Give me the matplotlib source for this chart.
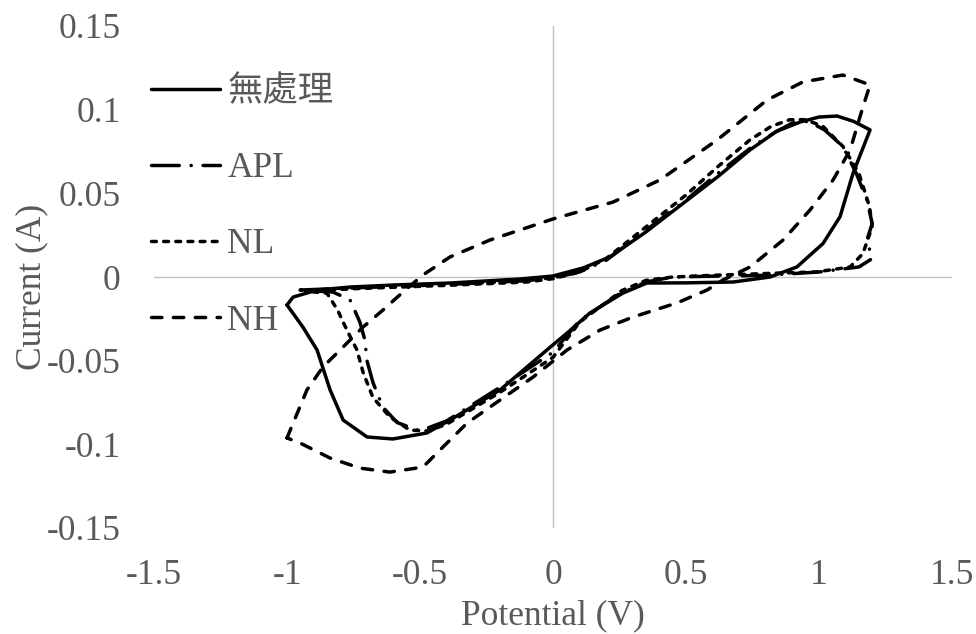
import matplotlib
matplotlib.use("Agg")
import matplotlib.pyplot as plt

plt.rcParams['font.family'] = ['Liberation Serif', 'Noto Sans CJK TC', 'DejaVu Sans']
plt.rcParams['axes.unicode_minus'] = False

# series (potential V, current A)
x_none = [-1.000, -0.977, -0.887, -0.763, -0.600, -0.387, -0.124, 0.0, 0.113, 0.214, 0.35, 0.489, 0.62,
          0.741, 0.84, 0.929, 1.0, 1.068, 1.13, 1.192,
          1.128, 1.079, 1.015, 0.917, 0.816, 0.677, 0.50, 0.353, 0.263, 0.139, 0.053, -0.011, -0.199,
          -0.387, -0.474, -0.602, -0.699, -0.789, -0.838, -0.887, -0.940, -1.000]
y_none = [-0.0167, -0.012, -0.0078, -0.0060, -0.0048, -0.0036, -0.0012, 0.0006, 0.0054, 0.012, 0.027, 0.044, 0.060,
          0.076, 0.087, 0.0926, 0.0956, 0.0962, 0.093, 0.0879,
          0.062, 0.036, 0.020, 0.006, 0.0, -0.003, -0.0035, -0.0036, -0.0096, -0.0215, -0.0335, -0.0420, -0.0675,
          -0.0855, -0.0932, -0.0968, -0.0956, -0.0855, -0.0675, -0.0436, -0.030, -0.0167]

x_apl = [-0.951, -0.75, -0.4, -0.1, 0.0, 0.1, 0.2, 0.35, 0.5, 0.62, 0.75, 0.84, 0.9, 0.96, 1.02, 1.09, 1.14,
         1.18, 1.20, 1.18, 1.20,
         1.15, 1.0, 0.8, 0.6, 0.45, 0.35, 0.25, 0.1, 0.0, -0.2, -0.4, -0.5, -0.586, -0.64, -0.677, -0.70,
         -0.707, -0.726, -0.763, -0.827, -0.951]
y_apl = [-0.0078, -0.0065, -0.0045, -0.0022, -0.0005, 0.003, 0.010, 0.028, 0.046, 0.062, 0.078, 0.087, 0.092,
         0.093, 0.088, 0.078, 0.062, 0.046, 0.032, 0.022, 0.011,
         0.006, 0.003, 0.001, 0.0005, 0.0, -0.003, -0.010, -0.026, -0.045, -0.066, -0.086, -0.092, -0.087,
         -0.0777, -0.063, -0.0496, -0.0377, -0.027, -0.0137, -0.009, -0.0078]

x_nl = [-0.93, -0.75, -0.4, -0.1, 0.0, 0.1, 0.2, 0.35, 0.5, 0.62, 0.741, 0.82, 0.89, 0.95, 1.015, 1.09, 1.15,
        1.19, 1.20, 1.165, 1.117,
        0.99, 0.86, 0.6, 0.45, 0.35, 0.26, 0.1, 0.0, -0.2, -0.4, -0.47, -0.538, -0.613, -0.677, -0.714,
        -0.737, -0.774, -0.81, -0.85, -0.93]
y_nl = [-0.0085, -0.007, -0.005, -0.003, -0.001, 0.003, 0.011, 0.030, 0.049, 0.066, 0.082, 0.090, 0.094, 0.094,
        0.090, 0.078, 0.062, 0.042, 0.030, 0.014, 0.006,
        0.003, 0.0024, 0.001, 0.0, -0.002, -0.008, -0.027, -0.048, -0.069, -0.088, -0.092, -0.0915, -0.0837,
        -0.072, -0.057, -0.0436, -0.032, -0.0197, -0.0096, -0.0085]

x_nh = [-1.000, -0.977, -0.925, -0.865, -0.789, -0.714, -0.639, -0.564, -0.489, -0.387, -0.237, 0.0, 0.226,
        0.402, 0.617, 0.805, 0.940, 1.090, 1.192,
        1.165, 1.117, 1.053, 0.966, 0.865, 0.741, 0.639, 0.579, 0.466, 0.301, 0.177, 0.053, -0.075, -0.199,
        -0.323, -0.425, -0.489, -0.613, -0.726, -0.838, -0.951, -1.000]
y_nh = [-0.0962, -0.0873, -0.0675, -0.0538, -0.0418, -0.0299, -0.0197, -0.0090, 0.0012, 0.0120, 0.0221, 0.0347,
        0.0448, 0.058, 0.0819, 0.1058, 0.1166, 0.1207, 0.1148,
        0.1016, 0.0759, 0.058, 0.040, 0.0221, 0.006, -0.0018, -0.0078, -0.0155, -0.0239, -0.0317, -0.0436,
        -0.0598, -0.0735, -0.0873, -0.1034, -0.1136, -0.1166, -0.1142, -0.1082, -0.0992, -0.0962]

labels = ['無處理', 'APL', 'NL', 'NH']
x_ticks = [-1.5, -1, -0.5, 0, 0.5, 1, 1.5]
y_ticks = [-0.15, -0.1, -0.05, 0, 0.05, 0.1, 0.15]

text_col = '#595959'
fs = 25.5

fig = plt.figure(figsize=(9.76, 6.34), dpi=100)
ax = fig.add_axes([154 / 976, 1 - 528 / 634, 798 / 976, 502 / 634])

ax.axhline(0, color='#BFBFBF', lw=1.0, zorder=1)
ax.axvline(0, color='#BFBFBF', lw=1.0, zorder=1)

lw = 2.5
ax.plot(x_nh, y_nh, color='black', lw=lw, linestyle=(0, (3.0, 3.3)),
        dash_capstyle='round', solid_joinstyle='round', label=labels[3], zorder=3)
ax.plot(x_nl, y_nl, color='black', lw=lw, linestyle=(0, (1.4, 2.1)),
        dash_capstyle='round', solid_joinstyle='round', label=labels[2], zorder=4)
ax.plot(x_apl, y_apl, color='black', lw=lw, linestyle=(0, (8, 3.4, 0.05, 3.4)),
        dash_capstyle='round', solid_joinstyle='round', label=labels[1], zorder=5)
ax.plot(x_none, y_none, color='black', lw=lw, solid_capstyle='round', solid_joinstyle='round',
        label=labels[0], zorder=6)

ax.set_xlim(-1.5, 1.5)
ax.set_ylim(-0.15, 0.15)
ax.set_xticks(x_ticks)
ax.set_yticks(y_ticks)
ax.set_xticklabels(['%g' % v for v in x_ticks])
ax.set_yticklabels(['%g' % v for v in y_ticks])
ax.tick_params(length=0, labelsize=fs, labelcolor=text_col)
ax.tick_params(axis='y', pad=24)
ax.tick_params(axis='x', pad=22)
for s in ax.spines.values():
    s.set_visible(False)

ax.set_xlabel('Potential (V)', fontsize=fs, color=text_col)
ax.set_ylabel('Current (A)', fontsize=fs, color=text_col)
ax.xaxis.set_label_coords(0.5, -0.142)
ax.yaxis.set_label_coords(-0.133, 0.48)

h, l = ax.get_legend_handles_labels()
order = [3, 2, 1, 0]
leg = fig.legend([h[i] for i in order], [l[i] for i in order], loc='upper left',
                 bbox_to_anchor=(151 / 976, 1 - 76 / 634), frameon=False, fontsize=fs,
                 handlelength=1.95, handletextpad=0.2, labelspacing=1.22, borderpad=0,
                 borderaxespad=0)
for t in leg.get_texts():
    t.set_color(text_col)

fig.savefig('out.png', dpi=100)
